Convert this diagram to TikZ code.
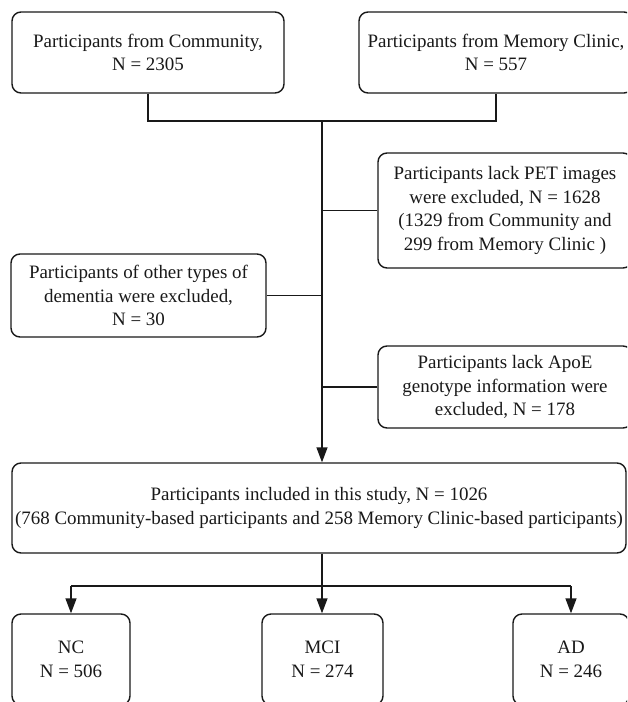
\documentclass[tikz,border=0pt]{standalone}
\usepackage{fontspec}
\setmainfont{Liberation Serif}
\usetikzlibrary{arrows.meta}
\begin{document}
\begin{tikzpicture}[x=1pt,y=1pt,
  box/.style={draw=black!90, line width=1.4pt, rounded corners=9pt, align=center,
    inner sep=0pt, font=\fontsize{18.95}{23.8}\selectfont, text=black!90},
  conn/.style={draw=black!90, line width=1.4pt},
  arr/.style={conn, -{Triangle[length=15pt,width=11pt]}}]
\useasboundingbox (0,0) rectangle (627,-702);
\clip (0,0) rectangle (627,-702);
\fill[white] (0,0) rectangle (627,-702);

\node[box, minimum width=272pt, minimum height=81pt] (comm) at (148,-52.5)
  {Participants from Community,\\N = 2305};
\node[box, minimum width=274pt, minimum height=81pt] (mem) at (496,-52.5)
  {Participants from Memory Clinic,\\N = 557};
\node[box, minimum width=254pt, minimum height=115pt] (pet) at (505,-210.5)
  {Participants lack PET images\\were excluded, N = 1628\\(1329 from Community and\\299 from Memory Clinic )};
\node[box, minimum width=255pt, minimum height=83pt] (dem) at (138.5,-295.5)
  {Participants of other types of\\dementia were excluded,\\N = 30};
\node[box, minimum width=254pt, minimum height=82pt] (apoe) at (505,-387)
  {Participants lack ApoE\\genotype information were\\excluded, N = 178};
\node[box, minimum width=614pt, minimum height=90pt] (big) at (319,-508)
  {Participants included in this study, N = 1026\\(768 Community-based participants and 258 Memory Clinic-based participants)};
\node[box, minimum width=118pt, minimum height=91pt] (nc) at (71,-659.5)
  {NC\\N = 506};
\node[box, minimum width=121pt, minimum height=91pt] (mci) at (322.5,-659.5)
  {MCI\\N = 274};
\node[box, minimum width=116pt, minimum height=91pt] (ad) at (571,-659.5)
  {AD\\N = 246};

\coordinate (jl) at (comm.south |- 0,-121);
\coordinate (jr) at (mem.south |- 0,-121);
\coordinate (top) at (322,-121);
\coordinate (split) at (322,-586);

\draw[conn] (comm.south) -- (jl) -- (jr) -- (mem.south);
\draw[arr] (top) -- (top |- big.north);
\draw[conn] (pet.west) -- (pet.west -| top);
\draw[conn] (dem.east) -- (dem.east -| top);
\draw[conn] (apoe.west) -- (apoe.west -| top);

\draw[arr] (big.south -| split) -- (split |- mci.north);
\draw[conn] (nc.north |- split) -- (ad.north |- split);
\draw[arr] (nc.north |- split) -- (nc.north);
\draw[arr] (ad.north |- split) -- (ad.north);
\end{tikzpicture}
\end{document}
